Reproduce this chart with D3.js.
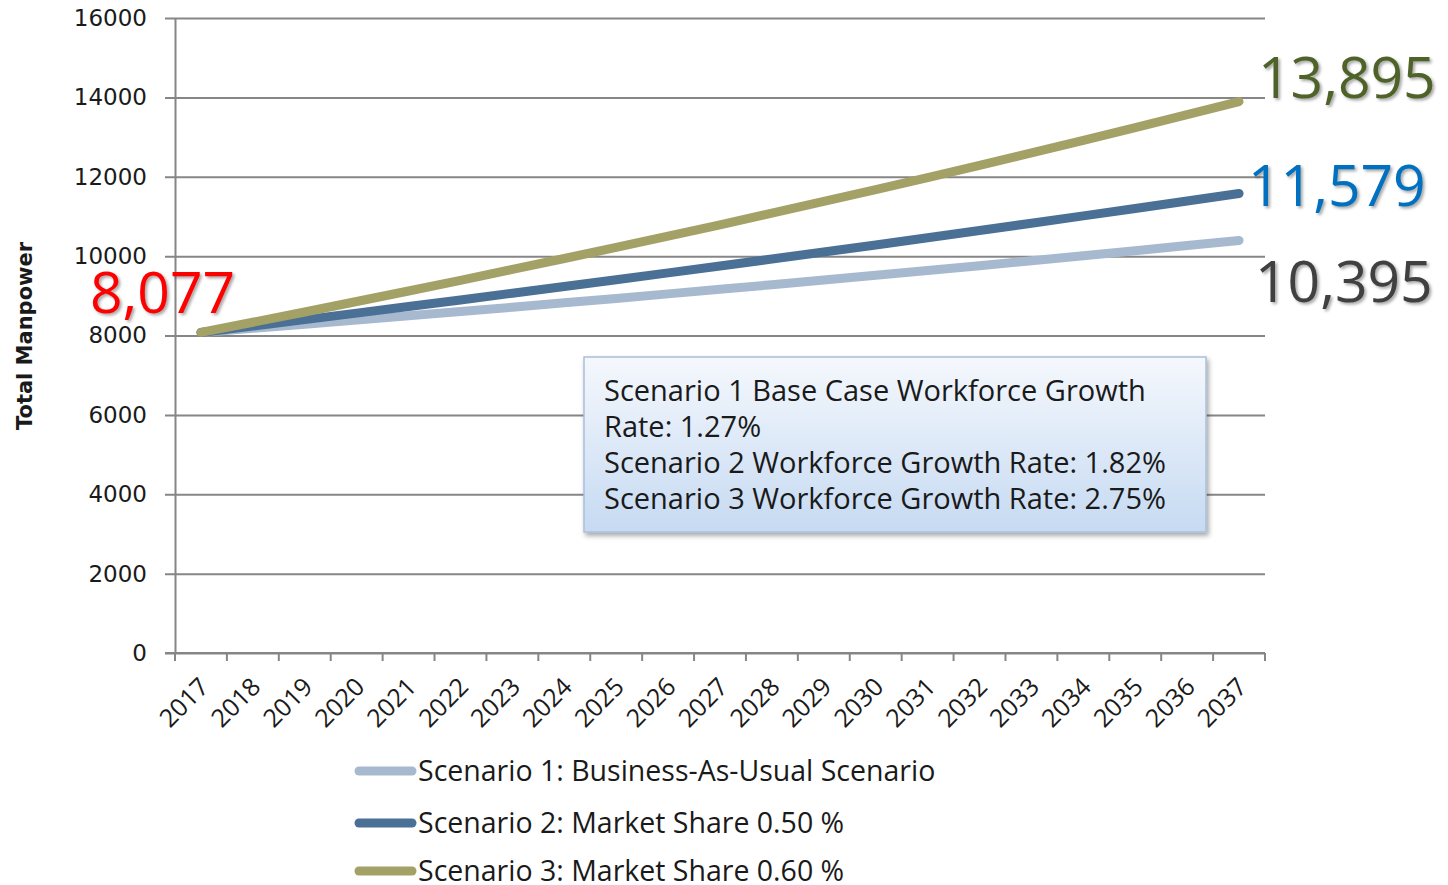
<!DOCTYPE html>
<html lang="en">
<head>
  <meta charset="utf-8">
  <title>Total Manpower scenarios</title>
  <script src="https://cdn.jsdelivr.net/npm/d3@7"></script>
  <style>
    body { margin: 0; background: #fff; }
    text { font-family: "Open Sans", sans-serif; fill: #1a1a1a; }
    .ytick text { font-family: "DejaVu Sans", sans-serif; font-size: 23px; }
    .big { filter: drop-shadow(2px 2px 1.5px rgba(0,0,0,0.35)); }
  </style>
</head>
<body>
<script>
// chart data
var years = ["2017","2018","2019","2020","2021","2022","2023","2024","2025","2026","2027",
             "2028","2029","2030","2031","2032","2033","2034","2035","2036","2037"];
var scenario1 = [8077, 8180, 8284, 8389, 8495, 8603, 8712, 8823, 8935, 9049, 9164,
                 9280, 9398, 9517, 9638, 9760, 9884, 10010, 10137, 10266, 10395];
var scenario2 = [8077, 8238, 8400, 8564, 8729, 8896, 9064, 9234, 9404, 9577, 9751,
                 9926, 10104, 10282, 10463, 10645, 10829, 11015, 11202, 11390, 11579];
var scenario3 = [8077, 8334, 8593, 8856, 9122, 9391, 9664, 9940, 10220, 10503, 10790,
                 11082, 11377, 11676, 11980, 12287, 12600, 12917, 13238, 13565, 13895];
var yTicks = [0, 2000, 4000, 6000, 8000, 10000, 12000, 14000, 16000];
var legendNames = ["Scenario 1: Business-As-Usual Scenario",
                   "Scenario 2: Market Share 0.50 %",
                   "Scenario 3: Market Share 0.60 %"];
var noteLines = ["Scenario 1 Base Case Workforce Growth",
                 "Rate: 1.27%",
                 "Scenario 2 Workforce Growth Rate: 1.82%",
                 "Scenario 3 Workforce Growth Rate: 2.75%"];

var width = 1448, height = 885;
// plot area edges
var plotL = 175, plotR = 1265, plotT = 18, plotB = 653;

var svg = d3.select("body").append("svg")
  .attr("width", width)
  .attr("height", height);

var x = d3.scaleBand().domain(years).range([plotL, plotR]);
var y = d3.scaleLinear().domain([0, 16000]).range([plotB, plotT]);

// y axis with gridlines
var yAxis = svg.append("g")
  .attr("class", "ytick")
  .attr("transform", "translate(" + plotL + ",0)")
  .call(d3.axisLeft(y).tickValues(yTicks).tickFormat(d3.format("d"))
    .tickSizeInner(-(plotR - plotL)).tickSizeOuter(0).tickPadding(28));
yAxis.select(".domain").attr("stroke", "#868686").attr("stroke-width", 2);
yAxis.selectAll(".tick line").attr("x1", -10).attr("stroke", "#868686").attr("stroke-width", 2);
yAxis.selectAll(".tick text").attr("fill", "#1a1a1a");

// x axis line, tick marks at category boundaries
var xg = svg.append("g");
xg.append("line")
  .attr("x1", plotL - 10).attr("x2", plotR)
  .attr("y1", plotB).attr("y2", plotB)
  .attr("stroke", "#868686").attr("stroke-width", 2);
xg.selectAll("line.tk")
  .data(years.concat(["end"]))
  .enter().append("line")
  .attr("class", "tk")
  .attr("x1", function(d, i) { return plotL + i * x.step(); })
  .attr("x2", function(d, i) { return plotL + i * x.step(); })
  .attr("y1", plotB).attr("y2", plotB + 8)
  .attr("stroke", "#868686").attr("stroke-width", 2);
xg.selectAll("text")
  .data(years)
  .enter().append("text")
  .attr("transform", function(d) {
    return "translate(" + (x(d) + x.bandwidth() / 2 - 3) + "," + (plotB + 23) + ") rotate(-45)";
  })
  .attr("text-anchor", "end")
  .attr("dy", "0.7em")
  .style("font-size", "25px")
  .text(function(d) { return d; });

// y axis title
svg.append("text")
  .attr("transform", "translate(32,336) rotate(-90)")
  .attr("text-anchor", "middle")
  .style("font-family", "'DejaVu Sans', sans-serif")
  .style("font-size", "21px")
  .style("font-weight", "bold")
  .text("Total Manpower");

// lines
var series = [
  { values: scenario1, color: "#a7b9cf" },
  { values: scenario2, color: "#4b7096" },
  { values: scenario3, color: "#a3a166" }
];
var line = d3.line()
  .x(function(d, i) { return x(years[i]) + x.bandwidth() / 2; })
  .y(function(d) { return y(d); });

svg.selectAll("path.series")
  .data(series)
  .enter().append("path")
  .attr("class", "series")
  .attr("fill", "none")
  .attr("stroke", function(d) { return d.color; })
  .attr("stroke-width", 9)
  .attr("stroke-linecap", "round")
  .attr("stroke-linejoin", "round")
  .attr("d", function(d) { return line(d.values); });

// annotation box
var defs = svg.append("defs");
var grad = defs.append("linearGradient").attr("id", "boxgrad")
  .attr("x1", 0).attr("y1", 0).attr("x2", 0).attr("y2", 1);
grad.append("stop").attr("offset", "0%").attr("stop-color", "#f5f8fd");
grad.append("stop").attr("offset", "100%").attr("stop-color", "#c6daf2");
var shadow = defs.append("filter").attr("id", "boxshadow")
  .attr("x", "-5%").attr("y", "-5%").attr("width", "115%").attr("height", "125%");
shadow.append("feDropShadow").attr("dx", 2).attr("dy", 3).attr("stdDeviation", 2.5)
  .attr("flood-color", "#000").attr("flood-opacity", 0.35);

svg.append("rect")
  .attr("x", 584).attr("y", 357)
  .attr("width", 622).attr("height", 175)
  .attr("fill", "url(#boxgrad)")
  .attr("stroke", "#a9c0dc").attr("stroke-width", 1.5)
  .attr("filter", "url(#boxshadow)");
svg.selectAll("text.note")
  .data(noteLines)
  .enter().append("text")
  .attr("class", "note")
  .attr("x", 604)
  .attr("y", function(d, i) { return 401 + i * 36; })
  .style("font-size", "29px")
  .text(function(d) { return d; });

// value callouts
var callouts = [
  { text: "8,077", x: 90, y: 313, color: "#ff0000" },
  { text: "13,895", x: 1258, y: 98, color: "#4f6228" },
  { text: "11,579", x: 1248, y: 206, color: "#0070c0" },
  { text: "10,395", x: 1255, y: 302, color: "#404040" }
];
svg.selectAll("text.big")
  .data(callouts)
  .enter().append("text")
  .attr("class", "big")
  .attr("x", function(d) { return d.x; })
  .attr("y", function(d) { return d.y; })
  .style("font-size", "57px")
  .style("fill", function(d) { return d.color; })
  .text(function(d) { return d.text; });

// legend
var legend = svg.selectAll("g.legend")
  .data(series)
  .enter().append("g")
  .attr("class", "legend")
  .attr("transform", function(d, i) { return "translate(0," + [771, 823, 871][i] + ")"; });
legend.append("line")
  .attr("x1", 359).attr("x2", 412)
  .attr("stroke", function(d) { return d.color; })
  .attr("stroke-width", 9)
  .attr("stroke-linecap", "round");
legend.append("text")
  .attr("x", 418)
  .attr("dy", "0.35em")
  .style("font-size", "28.5px")
  .text(function(d, i) { return legendNames[i]; });
</script>
</body>
</html>
